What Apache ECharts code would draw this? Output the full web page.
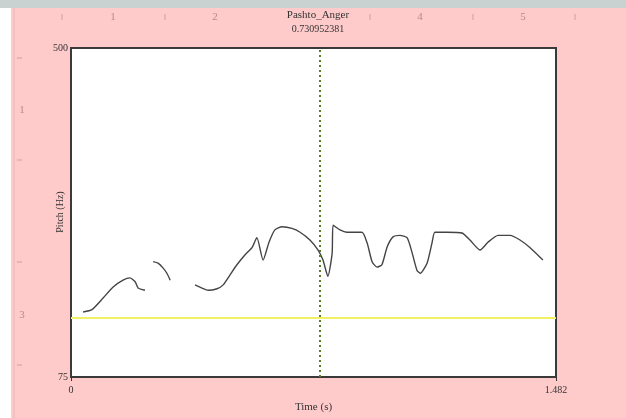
<!DOCTYPE html>
<html>
<head>
<meta charset="utf-8">
<style>
  html, body { margin: 0; padding: 0; background: #fff; }
  #chart { width: 626px; height: 418px; }
</style>
<script src="https://cdn.jsdelivr.net/npm/echarts@6/dist/echarts.min.js"></script>
</head>
<body>
<div id="chart"></div>
<script>
// pitch contour, null = unvoiced gap
const times = [
  0.037, 0.064, 0.098, 0.128, 0.159, 0.180, 0.196, 0.205, 0.226, 0.238,
  0.251, 0.266, 0.281, 0.293, 0.303, 0.340,
  0.379, 0.394, 0.419, 0.446, 0.465, 0.486, 0.507, 0.532, 0.553, 0.568,
  0.587, 0.605, 0.623, 0.645, 0.675, 0.700, 0.730, 0.755, 0.770, 0.785,
  0.798, 0.801, 0.822, 0.843, 0.889, 0.905, 0.920, 0.935, 0.950, 0.966,
  0.984, 1.005, 1.027, 1.042, 1.057, 1.067, 1.088, 1.103, 1.112, 1.149,
  1.195, 1.219, 1.250, 1.274, 1.305, 1.342, 1.372, 1.403, 1.442
]
const pitch = [
  159, 162, 177, 191, 200, 203, 198, 190, 187, null,
  224, 222, 216, 209, 200, null,
  194, 191, 187, 189, 194, 207, 220, 233, 242, 255,
  226, 249, 265, 269, 267, 262, 252, 239, 226, 205,
  235, 271, 265, 262, 262, 248, 224, 217, 220, 243,
  256, 258, 255, 236, 213, 209, 222, 248, 262, 262,
  261, 252, 239, 249, 258, 258, 252, 242, 226
]
const yLabels = [75, 500]
const xLabels = [0, 1.482]
const fileName = 'Pashto_Anger'
const cursorText = '0.730952381'
const cursorAt = 0.755
const yellowLevel = 152

const topRuler = [
  { x: 113, t: '1' }, { x: 215, t: '2' }, { x: 420, t: '4' }, { x: 523, t: '5' }
]
const leftRuler = [
  { y: 110, t: '1' }, { y: 315, t: '3' }
]

const serif = '"Liberation Serif", "DejaVu Serif", serif'
const chart = echarts.init(document.getElementById('chart'))

const rulerMarks = []
topRuler.forEach((r) => {
  rulerMarks.push({
    type: 'text', x: r.x, y: 17,
    style: { text: r.t, fill: '#b88', font: '11px ' + serif, align: 'center', verticalAlign: 'middle' }
  })
})
;[62, 165, 370, 473, 575].forEach((x) => {
  rulerMarks.push({ type: 'line', shape: { x1: x, y1: 14, x2: x, y2: 20 }, style: { stroke: '#c9a3a3', lineWidth: 1 } })
})
leftRuler.forEach((r) => {
  rulerMarks.push({
    type: 'text', x: 22, y: r.y,
    style: { text: r.t, fill: '#b88', font: '11px ' + serif, align: 'center', verticalAlign: 'middle' }
  })
})
;[58, 160, 262, 365].forEach((y) => {
  rulerMarks.push({ type: 'line', shape: { x1: 17, y1: y, x2: 22, y2: y }, style: { stroke: '#c9a3a3', lineWidth: 1 } })
})

const option = {
  backgroundColor: '#ffcaca',
  animation: false,
  grid: {
    left: 71, right: 70, top: 48, bottom: 41,
    show: true,
    backgroundColor: '#ffffff',
    borderColor: '#3a3a3a',
    borderWidth: 2
  },
  xAxis: {
    type: 'value',
    min: 0,
    max: 1.482,
    interval: 1.482,
    name: 'Time (s)',
    nameLocation: 'middle',
    nameGap: 25,
    nameTextStyle: { fontFamily: serif, fontSize: 11, color: '#333' },
    axisLine: { show: false },
    axisTick: { show: true, length: 4, lineStyle: { color: '#333' } },
    splitLine: { show: false },
    axisLabel: {
      fontFamily: serif, fontSize: 10, color: '#333', margin: 8,
      showMinLabel: true, showMaxLabel: true,
      formatter: (v) => (xLabels.some((l) => Math.abs(l - v) < 1e-6) ? String(v) : '')
    }
  },
  yAxis: {
    type: 'value',
    min: 75,
    max: 500,
    interval: 25,
    axisLine: { show: false },
    axisTick: { show: false },
    splitLine: { show: false },
    axisLabel: {
      fontFamily: serif, fontSize: 10, color: '#333', margin: 3,
      formatter: (v) => (yLabels.includes(v) ? String(v) : '')
    }
  },
  graphic: [
    { type: 'rect', shape: { x: 0, y: 0, width: 11, height: 418 }, style: { fill: '#ffffff' } },
    { type: 'rect', shape: { x: 0, y: 0, width: 626, height: 8 }, style: { fill: '#c9d1d1' } },
    { type: 'line', shape: { x1: 14, y1: 8, x2: 14, y2: 418 }, style: { stroke: '#e6b5b5', lineWidth: 1 } },
    ...rulerMarks,
    {
      type: 'text', x: 318, y: 15,
      style: { text: fileName, fill: '#333', font: '11px ' + serif, align: 'center', verticalAlign: 'middle' }
    },
    {
      type: 'text', x: 318, y: 29,
      style: { text: cursorText, fill: '#333', font: '10px ' + serif, align: 'center', verticalAlign: 'middle' }
    },
    {
      type: 'text', x: 60, y: 212, rotation: Math.PI / 2,
      style: { text: 'Pitch (Hz)', fill: '#333', font: '10px ' + serif, align: 'center', verticalAlign: 'middle' }
    }
  ],
  series: [
    {
      type: 'line',
      data: times.map((t, i) => [t, pitch[i]]),
      connectNulls: false,
      showSymbol: false,
      smooth: 0.2,
      lineStyle: { color: '#444', width: 1.4 },
      markLine: {
        silent: true,
        symbol: 'none',
        label: { show: false },
        animation: false,
        data: [
          { yAxis: yellowLevel, lineStyle: { color: '#f0f060', width: 2, type: 'solid' } },
          { xAxis: cursorAt, lineStyle: { color: '#5a7a25', width: 2, type: [2, 3] } }
        ]
      }
    }
  ]
}

chart.setOption(option)
window.onresize = function () {
  chart.resize()
}
</script>
</body>
</html>
